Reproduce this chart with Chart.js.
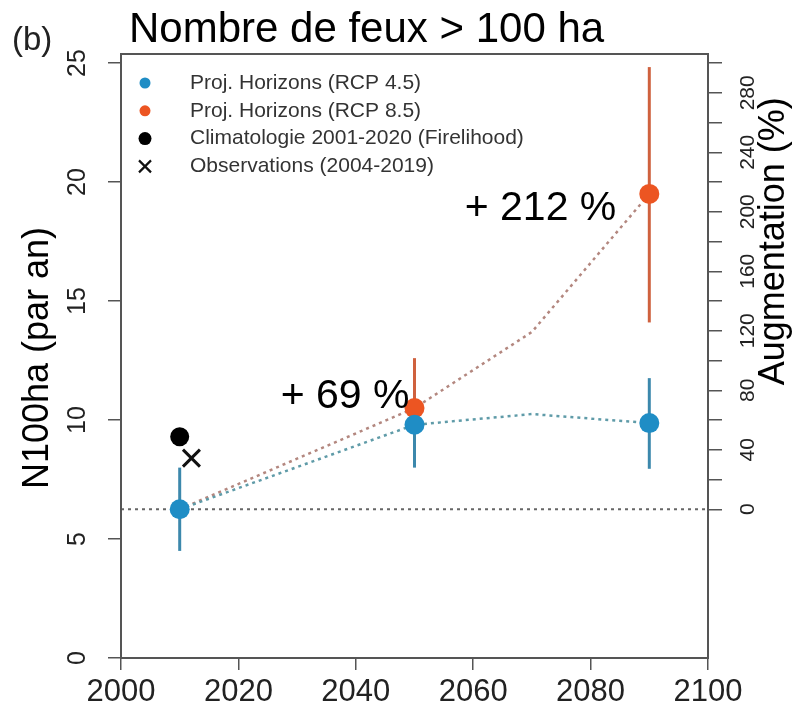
<!DOCTYPE html>
<html>
<head>
<meta charset="utf-8">
<script src="https://cdn.jsdelivr.net/npm/chart.js@4.4.1/dist/chart.umd.min.js"></script>
<style>
    html, body { margin: 0; padding: 0; background: #fff; }
    #wrap { width: 794px; height: 711px; }
</style>
</head>
<body>
<div id="wrap"><canvas id="chart"></canvas></div>
<script>
// ================================================================== Data
const horizons = [2010, 2050, 2090];
const rcp45 = [6.25, 9.8, 9.87];
const rcp45Low = [4.5, 8.0, 7.95];
const rcp45High = [8.0, 11.6, 11.76];

const horizons85 = [2050, 2090];
const rcp85 = [10.5, 19.5];
const rcp85Low = [9.5, 14.1];
const rcp85High = [12.6, 24.83];

const trendYears = [2010, 2050, 2070, 2090];
const trend45 = [6.25, 9.8, 10.25, 9.87];
const trend85 = [6.25, 10.5, 13.7, 19.5];

const climYears = [2010];
const climValues = [9.3];
const obsYears = [2012];
const obsValues = [8.4];

const baseline = 6.25;
const baselineYears = [2000, 2100];

const xTicks = [2000, 2020, 2040, 2060, 2080, 2100];
const yTicks = [0, 5, 10, 15, 20, 25];
const pctTicks = [0, 20, 40, 60, 80, 100, 120, 140, 160, 180, 200, 220, 240, 260, 280, 300];
const pctLabels = [0, 40, 80, 120, 160, 200, 240, 280];

const gainLabels = ['+ 69 %', '+ 212 %'];
const legendLabels = [
    'Proj. Horizons (RCP 4.5)',
    'Proj. Horizons (RCP 8.5)',
    'Climatologie 2001-2020 (Firelihood)',
    'Observations (2004-2019)'
];

// ================================================================== Styles
const BLUE = '#1f8dc5';
const ORANGE = '#ec5522';
const BLUE_BAR = '#3c88ac';
const ORANGE_BAR = '#cf613e';
const AXIS = '#555';
const FONT = '"Liberation Sans", Arial, sans-serif';
const Y_MAX = 25.38;

Chart.defaults.font.family = FONT;
Chart.defaults.color = '#222';

function toPoints(xs, ys) {
    return xs.map((x, i) => ({ x: x, y: ys[i] }));
}

function errorBars(xs, lows, highs, color, order) {
    return xs.map((x, i) => ({
        data: [{ x: x, y: lows[i] }, { x: x, y: highs[i] }],
        showLine: true,
        borderColor: color,
        borderWidth: 3,
        pointRadius: 0,
        order: order
    }));
}

function dottedLine(xs, ys, color, width, order) {
    return {
        data: toPoints(xs, ys),
        showLine: true,
        borderColor: color,
        borderWidth: width,
        borderDash: [3, 4],
        pointRadius: 0,
        tension: 0,
        order: order
    };
}

// ================================================================== Datasets
let datasets = [];
datasets.push(dottedLine(baselineYears, [baseline, baseline], '#666', 1.8, 9));
datasets.push(dottedLine(trendYears, trend45, '#5f9ba8', 2.5, 8));
datasets.push(dottedLine(trendYears, trend85, '#b3877f', 2.5, 8));
datasets = datasets.concat(errorBars(horizons, rcp45Low, rcp45High, BLUE_BAR, 7));
datasets = datasets.concat(errorBars(horizons85, rcp85Low, rcp85High, ORANGE_BAR, 6));
datasets.push({
    data: toPoints(horizons85, rcp85),
    pointRadius: 10,
    pointBackgroundColor: ORANGE,
    pointBorderWidth: 0,
    order: 5
});
datasets.push({
    data: toPoints(horizons, rcp45),
    pointRadius: 10,
    pointBackgroundColor: BLUE,
    pointBorderWidth: 0,
    order: 4
});
datasets.push({
    data: toPoints(climYears, climValues),
    pointRadius: 9.5,
    pointBackgroundColor: '#000',
    pointBorderWidth: 0,
    order: 3
});
datasets.push({
    data: toPoints(obsYears, obsValues),
    pointStyle: 'crossRot',
    pointRadius: 12,
    pointBorderColor: '#111',
    pointBorderWidth: 3,
    order: 2
});

// ================================================================== Decorations
const decorPlugin = {
    id: 'decor',
    afterDraw(chart) {
        const ctx = chart.ctx;
        const area = chart.chartArea;
        const y = chart.scales.y;
        const y2 = chart.scales.y2;
        const x = chart.scales.x;
        ctx.save();

        // box
        ctx.strokeStyle = AXIS;
        ctx.lineWidth = 2;
        ctx.strokeRect(area.left, area.top, area.right - area.left, area.bottom - area.top);

        // titles
        ctx.fillStyle = '#000';
        ctx.textBaseline = 'alphabetic';
        ctx.textAlign = 'left';
        ctx.font = '42px ' + FONT;
        ctx.fillText('Nombre de feux > 100 ha', 129, 42);
        ctx.font = '33px ' + FONT;
        ctx.fillStyle = '#222';
        ctx.fillText('(b)', 12, 50);

        // left tick labels + title
        ctx.textAlign = 'center';
        ctx.textBaseline = 'middle';
        ctx.fillStyle = '#222';
        ctx.font = '25px ' + FONT;
        yTicks.forEach(v => {
            ctx.save();
            ctx.translate(78, y.getPixelForValue(v));
            ctx.rotate(-Math.PI / 2);
            ctx.fillText(String(v), 0, 0);
            ctx.restore();
        });
        ctx.fillStyle = '#000';
        ctx.font = '36px ' + FONT;
        ctx.save();
        ctx.translate(38, (area.top + area.bottom) / 2 + 2);
        ctx.rotate(-Math.PI / 2);
        ctx.fillText('N100ha (par an)', 0, 0);
        ctx.restore();

        // right tick labels + title
        ctx.fillStyle = '#222';
        ctx.font = '21px ' + FONT;
        pctLabels.forEach(v => {
            ctx.save();
            ctx.translate(748, y2.getPixelForValue(v));
            ctx.rotate(-Math.PI / 2);
            ctx.fillText(String(v), 0, 0);
            ctx.restore();
        });
        ctx.fillStyle = '#000';
        ctx.font = '36px ' + FONT;
        ctx.save();
        ctx.translate(774, y2.getPixelForValue(160) - 30);
        ctx.rotate(-Math.PI / 2);
        ctx.fillText('Augmentation (%)', 0, 0);
        ctx.restore();

        // gain labels next to the RCP 8.5 points
        ctx.font = '41px ' + FONT;
        ctx.textAlign = 'right';
        ctx.fillText(gainLabels[0], x.getPixelForValue(horizons85[0]) - 5, y.getPixelForValue(rcp85[0]) - 11);
        ctx.fillText(gainLabels[1], x.getPixelForValue(horizons85[1]) - 33, y.getPixelForValue(rcp85[1]) + 15);

        // legend
        const markX = area.left + 24;
        const textX = area.left + 69;
        const rowY = area.top + 29;
        const step = 27.8;
        ctx.textAlign = 'left';
        ctx.font = '21px ' + FONT;
        legendLabels.forEach((label, i) => {
            const ly = rowY + i * step;
            ctx.fillStyle = '#333';
            ctx.fillText(label, textX, ly);
            if (i < 3) {
                ctx.beginPath();
                ctx.fillStyle = [BLUE, ORANGE, '#000'][i];
                ctx.arc(markX, ly, i == 2 ? 6.5 : 5.5, 0, Math.PI * 2);
                ctx.fill();
            } else {
                ctx.strokeStyle = '#111';
                ctx.lineWidth = 2.2;
                ctx.beginPath();
                ctx.moveTo(markX - 6, ly - 6);
                ctx.lineTo(markX + 6, ly + 6);
                ctx.moveTo(markX + 6, ly - 6);
                ctx.lineTo(markX - 6, ly + 6);
                ctx.stroke();
            }
        });
        ctx.restore();
    }
};

// ================================================================== Chart
new Chart(document.getElementById('chart'), {
    type: 'scatter',
    data: { datasets: datasets },
    plugins: [decorPlugin],
    options: {
        responsive: true,
        maintainAspectRatio: false,
        animation: false,
        layout: { padding: { top: 54, left: 0, right: 0, bottom: 0 } },
        plugins: {
            legend: { display: false },
            tooltip: { enabled: false }
        },
        scales: {
            x: {
                type: 'linear',
                min: 2000,
                max: 2100,
                afterBuildTicks: axis => { axis.ticks = xTicks.map(v => ({ value: v })); },
                afterFit: axis => { axis.height = 53; },
                ticks: {
                    callback: v => String(v),
                    font: { size: 31 },
                    color: '#222',
                    padding: 4,
                    maxRotation: 0,
                    autoSkip: false
                },
                grid: { drawOnChartArea: false, drawTicks: true, tickLength: 12, color: AXIS, lineWidth: 1.5 },
                border: { display: true, color: AXIS, width: 2 }
            },
            y: {
                type: 'linear',
                position: 'left',
                min: 0,
                max: Y_MAX,
                afterBuildTicks: axis => { axis.ticks = yTicks.map(v => ({ value: v })); },
                afterFit: axis => { axis.width = 121; },
                ticks: { display: false },
                grid: { drawOnChartArea: false, drawTicks: true, tickLength: 13, color: AXIS, lineWidth: 1.5 },
                border: { display: true, color: AXIS, width: 2 }
            },
            y2: {
                type: 'linear',
                position: 'right',
                min: -100,
                max: (Y_MAX / baseline - 1) * 100,
                afterBuildTicks: axis => { axis.ticks = pctTicks.map(v => ({ value: v })); },
                afterFit: axis => { axis.width = 86; },
                ticks: { display: false },
                grid: { drawOnChartArea: false, drawTicks: true, tickLength: 14, color: AXIS, lineWidth: 1.5 },
                border: { display: true, color: AXIS, width: 2 }
            }
        }
    }
});
</script>
</body>
</html>
